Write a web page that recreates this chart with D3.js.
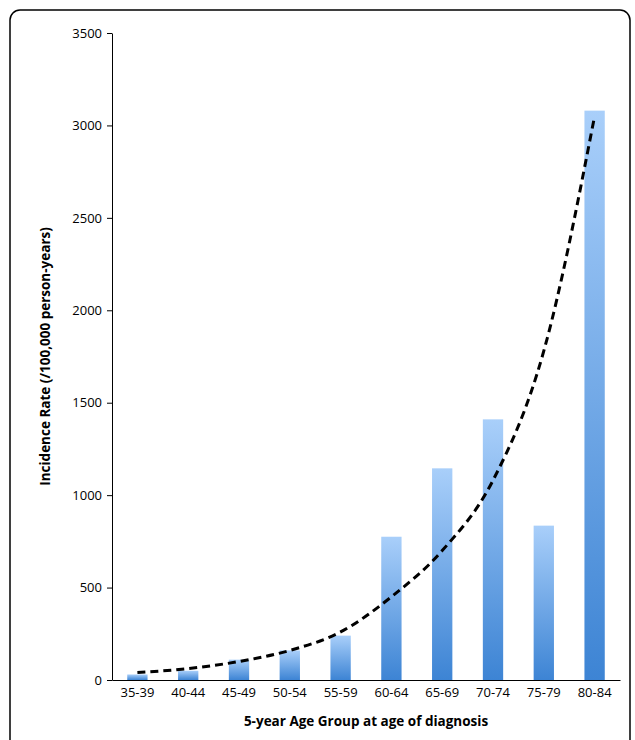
<!DOCTYPE html>
<html><head><meta charset="utf-8">
<script src="https://cdn.jsdelivr.net/npm/d3@7"></script>
<style>body{margin:0;background:#fff;} text{font-family:"Open Sans",sans-serif;}</style>
</head><body>
<script>
var categories = ['35-39','40-44','45-49','50-54','55-59','60-64','65-69','70-74','75-79','80-84'];
var rates      = [30, 50, 110, 160, 240, 775, 1145, 1410, 835, 3080];
var trend      = [40, 62, 100, 160, 260, 450, 700, 1080, 1780, 3050];
var yTicks     = [0, 500, 1000, 1500, 2000, 2500, 3000, 3500];

var width = 635, height = 740;
var margin = {left: 112, right: 15, top: 33, bottom: 60};

var svg = d3.select('body').append('svg').attr('width', width).attr('height', height);

svg.append('rect')
   .attr('x', 10).attr('y', 10).attr('width', 620).attr('height', 745)
   .attr('rx', 10).attr('fill', 'none').attr('stroke', '#000').attr('stroke-width', 1.5);

var grad = svg.append('defs').append('linearGradient')
              .attr('id', 'bar').attr('x1', 0).attr('y1', 0).attr('x2', 0).attr('y2', 1);
grad.append('stop').attr('offset', '0%').attr('stop-color', '#a9cffa');
grad.append('stop').attr('offset', '100%').attr('stop-color', '#3d84d4');

var x = d3.scaleBand().domain(categories).range([margin.left, width - margin.right]).paddingInner(0.6).paddingOuter(0.3);
var y = d3.scaleLinear().domain([0, 3500]).range([height - margin.bottom, margin.top]);

svg.selectAll('rect.bar').data(rates).enter().append('rect')
   .attr('class', 'bar')
   .attr('x', function(d, i){ return x(categories[i]); })
   .attr('y', function(d){ return y(d); })
   .attr('width', x.bandwidth())
   .attr('height', function(d){ return y(0) - y(d); })
   .attr('fill', 'url(#bar)');

var yAxis = svg.append('g').attr('transform', 'translate(' + margin.left + ',0)')
   .call(d3.axisLeft(y).tickValues(yTicks).tickFormat(d3.format('d')).tickSize(5).tickSizeOuter(0));
var xAxis = svg.append('g').attr('transform', 'translate(0,' + y(0) + ')')
   .call(d3.axisBottom(x).tickSize(0).tickSizeOuter(0).tickPadding(8));
[yAxis, xAxis].forEach(function(g){
  g.selectAll('text').attr('font-size', 13).attr('fill', '#000').style('font-family', '"Open Sans",sans-serif');
  g.select('.domain').attr('stroke', '#000');
});
yAxis.selectAll('text').attr('x', -10);
yAxis.selectAll('line').attr('stroke', '#000');

var line = d3.line()
   .x(function(d, i){ return x(categories[i]) + x.bandwidth() / 2; })
   .y(function(d){ return y(d); })
   .curve(d3.curveMonotoneX);
svg.append('path').datum(trend).attr('d', line)
   .attr('fill', 'none').attr('stroke', '#000').attr('stroke-width', 3).attr('stroke-dasharray', '8,5');

svg.append('text').attr('x', (margin.left + width - margin.right) / 2).attr('y', 726)
   .attr('text-anchor', 'middle').attr('font-size', 13.5).attr('font-weight', 'bold')
   .text('5-year Age Group at age of diagnosis');
svg.append('text').attr('transform', 'translate(50,' + ((margin.top + y(0)) / 2) + ') rotate(-90)')
   .attr('text-anchor', 'middle').attr('font-size', 13.5).attr('font-weight', 'bold')
   .text('Incidence Rate  (/100,000 person-years)');
</script>
</body></html>
